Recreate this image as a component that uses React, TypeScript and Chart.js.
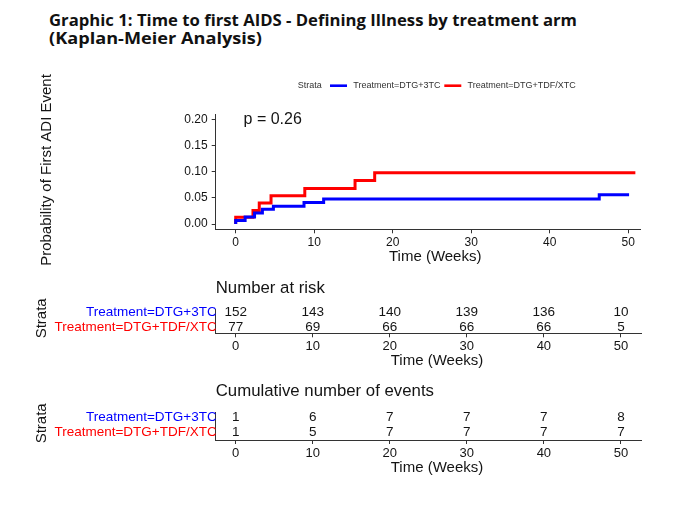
import React, { useEffect, useLayoutEffect, useRef } from "react";
import { Chart, registerables } from "chart.js";

Chart.register(...registerables);

// ---------- data ----------
const STRATA = ["Treatment=DTG+3TC", "Treatment=DTG+TDF/XTC"];
const COLORS = ["#0000FF", "#FF0000"];

const TIME_3TC = [0, 0, 1.2, 2.4, 3.4, 4.8, 8.7, 11.2, 46.3, 50.1];
const PROB_3TC = [0, 0.0066, 0.0135, 0.021, 0.028, 0.034, 0.041, 0.048, 0.056, 0.056];
const TIME_TDF = [0, 0, 2.2, 3.0, 4.5, 8.8, 15.2, 17.7, 50.9];
const PROB_TDF = [0, 0.013, 0.026, 0.04, 0.054, 0.068, 0.083, 0.098, 0.098];

const X_TICKS = [0, 10, 20, 30, 40, 50];
const Y_TICKS = [0, 0.05, 0.1, 0.15, 0.2];

const TABLE_TIMES = [0, 10, 20, 30, 40, 50];
const RISK_3TC = [152, 143, 140, 139, 136, 10];
const RISK_TDF = [77, 69, 66, 66, 66, 5];
const EVENTS_3TC = [1, 6, 7, 7, 7, 8];
const EVENTS_TDF = [1, 5, 7, 7, 7, 7];

const P_TEXT = "p = 0.26";
const P_POS = [1, 0.2];

const TITLE_1 = "Graphic 1: Time to first AIDS - Defining Illness by treatment arm";
const TITLE_2 = "(Kaplan-Meier Analysis)";
const Y_TITLE = "Probability of First ADI Event";
const X_TITLE = "Time (Weeks)";
const STRATA_TITLE = "Strata";
const RISK_TITLE = "Number at risk";
const EVENTS_TITLE = "Cumulative number of events";

// ---------- style ----------
const FAMILY = '"Liberation Sans", Arial, Helvetica, sans-serif';
const f = (size: number) => `normal ${size}px ${FAMILY}`;
const TEXT = "#141414";
const AXIS = "#333333";

const mainDecor = {
  id: "mainDecor",
  afterDraw(chart: any) {
    const { ctx, chartArea, scales } = chart;
    const xs = scales.x;
    const ys = scales.y;
    ctx.save();
    ctx.fillStyle = TEXT;
    ctx.textBaseline = "middle";
    // p value
    ctx.font = f(16);
    ctx.textAlign = "left";
    ctx.fillText(P_TEXT, xs.getPixelForValue(P_POS[0]), ys.getPixelForValue(P_POS[1]));
    // x title
    ctx.font = f(15);
    ctx.textAlign = "center";
    ctx.fillText(X_TITLE, (chartArea.left + chartArea.right) / 2 + 7, chartArea.bottom + 28);
    // legend
    const ly = chartArea.top - 28.3;
    let lx = chartArea.left + 82;
    ctx.font = f(9);
    ctx.textAlign = "left";
    ctx.fillStyle = "#333";
    ctx.fillText(STRATA_TITLE, lx, ly);
    lx += ctx.measureText(STRATA_TITLE).width + 8.3;
    chart.data.datasets.forEach((ds: any) => {
      ctx.strokeStyle = ds.borderColor;
      ctx.lineWidth = 2.6;
      ctx.beginPath();
      ctx.moveTo(lx, ly);
      ctx.lineTo(lx + 17, ly);
      ctx.stroke();
      lx += 17 + 6.3;
      ctx.fillText(ds.label, lx, ly);
      lx += ctx.measureText(ds.label).width + 3.8;
    });
    // y title
    ctx.fillStyle = TEXT;
    ctx.font = f(15);
    ctx.textAlign = "center";
    ctx.translate(46.7, 170);
    ctx.rotate(-Math.PI / 2);
    ctx.fillText(Y_TITLE, 0, 0);
    ctx.restore();
  },
};

const tableDecor = {
  id: "tableDecor",
  afterDraw(chart: any, _args: any, opts: any) {
    const { ctx, chartArea } = chart;
    ctx.save();
    ctx.fillStyle = TEXT;
    ctx.textBaseline = "middle";
    ctx.textAlign = "center";
    ctx.font = f(13.5);
    chart.data.datasets.forEach((ds: any, i: number) => {
      const meta = chart.getDatasetMeta(i);
      meta.data.forEach((el: any, j: number) => {
        ctx.fillText(String(ds.data[j].n), el.x, el.y);
      });
    });
    ctx.textAlign = "left";
    ctx.font = f(16.8);
    ctx.fillText(opts.title, chartArea.left, opts.titleY);
    ctx.textAlign = "center";
    ctx.font = f(15);
    ctx.fillText(X_TITLE, (chartArea.left + chartArea.right) / 2 + 8.3, chartArea.bottom + opts.xTitleGap);
    ctx.translate(41.7, opts.strataY);
    ctx.rotate(-Math.PI / 2);
    ctx.fillText(STRATA_TITLE, 0, 0);
    ctx.restore();
  },
};

const xAxis = (min: number, max: number, height: number, fontSize: number, pad: number) => ({
  type: "linear",
  min,
  max,
  afterBuildTicks: (s: any) => {
    s.ticks = X_TICKS.map((v) => ({ value: v }));
  },
  afterFit: (s: any) => {
    s.height = height;
  },
  ticks: {
    font: { family: FAMILY, size: fontSize },
    color: TEXT,
    padding: pad,
    maxRotation: 0,
    autoSkip: false,
    callback: (v: any) => String(v),
  },
  grid: { display: true, drawOnChartArea: false, drawTicks: true, tickLength: 4, color: AXIS, lineWidth: 1 },
  border: { display: true, color: AXIS, width: 1 },
});

function mainConfig(): any {
  return {
    type: "line",
    data: {
      datasets: [
        {
          label: STRATA[0],
          data: TIME_3TC.map((t, i) => ({ x: t, y: PROB_3TC[i] })),
          borderColor: COLORS[0],
          backgroundColor: COLORS[0],
          borderWidth: 3,
          pointRadius: 0,
          stepped: true,
        },
        {
          label: STRATA[1],
          data: TIME_TDF.map((t, i) => ({ x: t, y: PROB_TDF[i] })),
          borderColor: COLORS[1],
          backgroundColor: COLORS[1],
          borderWidth: 3,
          pointRadius: 0,
          stepped: true,
        },
      ],
    },
    options: {
      responsive: false,
      animation: false,
      layout: { padding: { left: 0, top: 114, right: 58.3, bottom: 0 } },
      plugins: { legend: { display: false }, tooltip: { enabled: false }, title: { display: false } },
      scales: {
        x: xAxis(-2.547, 51.58, 45.7, 12, 2),
        y: {
          type: "linear",
          min: -0.0101,
          max: 0.2101,
          afterBuildTicks: (s: any) => {
            s.ticks = Y_TICKS.map((v) => ({ value: v }));
          },
          afterFit: (s: any) => {
            s.width = 215.7;
          },
          ticks: {
            font: { family: FAMILY, size: 12 },
            color: TEXT,
            padding: 4,
            autoSkip: false,
            callback: (v: any) => Number(v).toFixed(2),
          },
          grid: { display: true, drawOnChartArea: false, drawTicks: true, tickLength: 4, color: AXIS, lineWidth: 1 },
          border: { display: true, color: AXIS, width: 1 },
        },
      },
    },
    plugins: [mainDecor],
  };
}

function tableConfig(
  v3tc: number[],
  vtdf: number[],
  title: string,
  lay: { top: number; bottom: number; yMin: number; yMax: number; titleY: number; xTitleGap: number; strataY: number; height: number }
): any {
  return {
    type: "scatter",
    data: {
      datasets: [
        {
          label: STRATA[0],
          data: TABLE_TIMES.map((t, i) => ({ x: t, y: 2, n: v3tc[i] })),
          pointRadius: 0,
          showLine: false,
        },
        {
          label: STRATA[1],
          data: TABLE_TIMES.map((t, i) => ({ x: t, y: 1, n: vtdf[i] })),
          pointRadius: 0,
          showLine: false,
        },
      ],
    },
    options: {
      responsive: false,
      animation: false,
      layout: { padding: { left: 0, top: lay.top, right: 57.3, bottom: 0 } },
      plugins: {
        legend: { display: false },
        tooltip: { enabled: false },
        tableDecor: { title, titleY: lay.titleY, xTitleGap: lay.xTitleGap, strataY: lay.strataY },
      },
      scales: {
        x: xAxis(-2.6, 52.7, lay.height - lay.bottom, 13, 1.5),
        y: {
          type: "linear",
          min: lay.yMin,
          max: lay.yMax,
          afterBuildTicks: (s: any) => {
            s.ticks = [1, 2].map((v) => ({ value: v }));
          },
          afterFit: (s: any) => {
            s.width = 215.7;
          },
          ticks: {
            font: { family: FAMILY, size: 13.5 },
            color: (c: any) => (c.tick && c.tick.value === 2 ? COLORS[0] : COLORS[1]),
            padding: -1,
            autoSkip: false,
            callback: (v: any) => (v === 2 ? STRATA[0] : STRATA[1]),
          },
          grid: { display: false, drawTicks: false },
          border: { display: true, color: AXIS, width: 1 },
        },
      },
    },
    plugins: [tableDecor],
  };
}

function ChartCanvas({ make, left, top, width, height }: { make: () => any; left: number; top: number; width: number; height: number }) {
  const ref = useRef<HTMLCanvasElement>(null);
  useEffect(() => {
    const chart = new Chart(ref.current as HTMLCanvasElement, make());
    return () => chart.destroy();
  }, []);
  return (
    <canvas
      ref={ref}
      width={width}
      height={height}
      style={{ position: "absolute", left, top, width, height }}
    />
  );
}

function Title() {
  const l1 = useRef<HTMLSpanElement>(null);
  const l2 = useRef<HTMLSpanElement>(null);
  useLayoutEffect(() => {
    const fit = (el: HTMLSpanElement | null, target: number) => {
      if (!el) return;
      const w = el.getBoundingClientRect().width;
      if (w > 0) el.style.transform = `scaleX(${target / w})`;
    };
    fit(l1.current, 528);
    fit(l2.current, 213);
  }, []);
  const line: React.CSSProperties = { display: "inline-block", transformOrigin: "0 0" };
  return (
    <div
      style={{
        position: "absolute",
        left: 49,
        top: 10.5,
        fontFamily: '"Open Sans", "Noto Sans", sans-serif',
        fontWeight: 700,
        fontSize: 15.5,
        lineHeight: "18.3px",
        color: "#111",
        whiteSpace: "nowrap",
      }}
    >
      <span ref={l1} style={line}>{TITLE_1}</span>
      <br />
      <span ref={l2} style={line}>{TITLE_2}</span>
    </div>
  );
}

export default function App() {
  return (
    <div style={{ position: "absolute", left: 0, top: 0, width: 699, height: 505, background: "#fff", overflow: "hidden" }}>
      <Title />
      <ChartCanvas make={mainConfig} left={0} top={0} width={699} height={275} />
      <ChartCanvas
        make={() =>
          tableConfig(RISK_3TC, RISK_TDF, RISK_TITLE, {
            top: 39.3, bottom: 63.3, yMin: 0.6, yMax: 2.2, titleY: 18.3, xTitleGap: 27.4, strataY: 48.3, height: 100,
          })
        }
        left={0}
        top={270}
        width={699}
        height={100}
      />
      <ChartCanvas
        make={() =>
          tableConfig(EVENTS_3TC, EVENTS_TDF, EVENTS_TITLE, {
            top: 37.7, bottom: 65, yMin: 0.47, yMax: 2.34, titleY: 16.7, xTitleGap: 27.7, strataY: 48.3, height: 100,
          })
        }
        left={0}
        top={375}
        width={699}
        height={100}
      />
    </div>
  );
}
